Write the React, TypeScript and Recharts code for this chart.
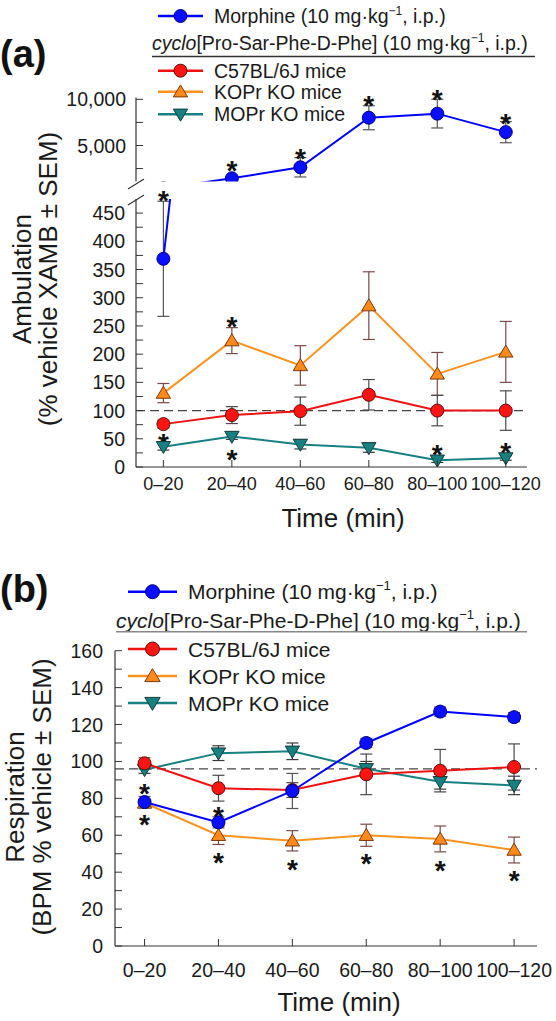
import React from 'react';
import {
  ComposedChart,
  Line,
  XAxis,
  YAxis,
  ErrorBar,
  ReferenceLine,
  ReferenceDot,
} from 'recharts';

const FONT = "'Liberation Sans', Arial, Helvetica, sans-serif";

const timeBins = ['0–20', '20–40', '40–60', '60–80', '80–100', '100–120'];

// (a) Ambulation (% vehicle XAMB ± SEM)
const ambMorphine = [369, 1450, 2640, 8010, 8450, 6450];
const ambMorphineSem = [102, 200, 1050, 1300, 1550, 1150];
const ambC57 = [76, 92, 99, 128, 100, 100];
const ambC57Sem = [7, 15, 25, 27, 27, 35];
const ambKop = [131, 224, 180, 286, 165, 204];
const ambKopSem = [17, 23, 35, 60, 38, 54];
const ambMop = [36, 54, 40, 34, 12, 16];
const ambMopSem = [6, 5, 8, 8, 4, 4];
// significance marks: [time bin, y value]
const ambStarsHigh = [[2, 3000], [3, 4300], [4, 10000], [5, 10700], [6, 8100]];
const ambStarsLow = [[1, 483], [2, 261], [1, 53], [2, 24.5], [5, 33], [6, 38]];

// (b) Respiration (BPM % vehicle ± SEM)
const respMorphine = [78, 67, 84, 110, 127, 124];
const respMorphineSem = [3, 3, 9.5, 2.5, 2.5, 2.5];
const respC57 = [99, 85.5, 84.5, 93, 95, 97];
const respC57Sem = [3, 7, 4, 11, 11.5, 12.5];
const respKop = [77.5, 60, 57, 60, 58, 52];
const respKopSem = [2, 5, 5.5, 6, 7, 7];
const respMop = [95.5, 104.5, 105.5, 96, 89, 87];
const respMopSem = [2, 4, 4.5, 4, 4, 5];
const respStars = [[1, 86], [1, 69.5], [2, 73.5], [2, 49], [3, 45], [4, 48], [5, 44.5], [6, 39]];

const ambRows = timeBins.map((_, i) => ({
  x: i + 1,
  mor: ambMorphine[i], morE: ambMorphineSem[i],
  c57: ambC57[i], c57E: ambC57Sem[i],
  kop: ambKop[i], kopE: ambKopSem[i],
  mop: ambMop[i], mopE: ambMopSem[i],
}));

const respRows = timeBins.map((_, i) => ({
  x: i + 1,
  mor: respMorphine[i], morE: respMorphineSem[i],
  c57: respC57[i], c57E: respC57Sem[i],
  kop: respKop[i], kopE: respKopSem[i],
  mop: respMop[i], mopE: respMopSem[i],
}));

type Shape = 'circle' | 'up' | 'down';
const STYLE: Record<string, { line: string; fill: string; edge: string; shape: Shape; err: string }> = {
  mor: { line: '#0000ff', fill: '#0a10ff', edge: '#00007a', shape: 'circle', err: '#555' },
  c57: { line: '#ee1111', fill: '#ff1414', edge: '#5a1010', shape: 'circle', err: '#4a4a4a' },
  kop: { line: '#f7931e', fill: '#ff8a1a', edge: '#7a3a10', shape: 'up', err: '#7a4a4a' },
  mop: { line: '#178080', fill: '#178080', edge: '#163a3a', shape: 'down', err: '#3a3a3a' },
};

const Marker = ({ cx, cy, k, size = 6.5 }: any) => {
  const s = STYLE[k];
  if (cx == null || cy == null) return null;
  if (s.shape === 'circle') {
    return <circle cx={cx} cy={cy} r={size} fill={s.fill} stroke={s.edge} strokeWidth={1} />;
  }
  const w = size * 1.1;
  const pts =
    s.shape === 'up'
      ? `${cx},${cy - size * 1.05} ${cx - w},${cy + size * 0.8} ${cx + w},${cy + size * 0.8}`
      : `${cx},${cy + size * 1.05} ${cx - w},${cy - size * 0.8} ${cx + w},${cy - size * 0.8}`;
  return <polygon points={pts} fill={s.fill} stroke={s.edge} strokeWidth={1} />;
};

const dotFor = (k: string) => (p: any) => <Marker key={`${k}-${p.index}`} cx={p.cx} cy={p.cy} k={k} />;

const Star = ({ cx, cy }: any) => (
  <text x={cx} y={cy + 16} textAnchor="middle" fontSize={28} fontWeight="bold" fontFamily={FONT} fill="#111">*</text>
);

const XTick = ({ x, y, payload, labelDy, fs }: any) => (
  <g>
    <line x1={x} x2={x} y1={y} y2={y - 7} stroke="#333" strokeWidth={1} />
    <text x={x} y={y + labelDy} textAnchor="middle" fontSize={fs} fontFamily={FONT} fill="#1a1a1a">
      {timeBins[payload.value - 1]}
    </text>
  </g>
);

const YTick = ({ x, y, payload, gap, show, fmt }: any) => (
  <g>
    <line x1={x + gap} x2={x + gap + 7} y1={y} y2={y} stroke="#333" strokeWidth={1} />
    {show.includes(payload.value) && (
      <text x={x} y={y} dy="0.36em" textAnchor="end" fontSize={19.5} fontFamily={FONT} fill="#1a1a1a">
        {fmt ? fmt(payload.value) : payload.value}
      </text>
    )}
  </g>
);

const seriesLines = (order: string[]) =>
  order.map((k) => (
    <Line
      key={k}
      type="linear"
      dataKey={k}
      stroke={STYLE[k].line}
      strokeWidth={2}
      dot={dotFor(k)}
      activeDot={false}
      isAnimationActive={false}
    >
      <ErrorBar dataKey={`${k}E`} width={6} stroke={STYLE[k].err} strokeWidth={1.2} direction="y" />
    </Line>
  ));

const starDots = (stars: number[][]) =>
  stars.map(([x, y], i) => (
    <ReferenceDot key={i} x={x} y={y} r={0} ifOverflow="visible" shape={(p: any) => <Star cx={p.cx} cy={p.cy} />} />
  ));

const xAxisProps = {
  type: 'number' as const,
  dataKey: 'x',
  domain: [0.6, 6.31],
  ticks: [1, 2, 3, 4, 5, 6],
  interval: 0 as const,
  tickSize: 0,
  tickMargin: 0,
  axisLine: { stroke: '#333', strokeWidth: 1.2 },
};

const LegendRow = ({ y, k, x0, x1, textX, fontSize, r, children }: any) => (
  <g>
    <line x1={x0} x2={x1} y1={y} y2={y} stroke={STYLE[k].line} strokeWidth={2.4} />
    <Marker cx={(x0 + x1) / 2} cy={y} k={k} size={r} />
    <text x={textX} y={y} dy="0.36em" fontSize={fontSize} fontFamily={FONT} fill="#1a1a1a">{children}</text>
  </g>
);

const Dose = ({ fs }: any) => (
  <>
    {' (10 mg·kg'}
    <tspan dy={-fs * 0.42} fontSize={fs * 0.62}>−1</tspan>
    <tspan dy={fs * 0.42}>, i.p.)</tspan>
  </>
);

const Legend = ({ rows, fs, r, x0, x1, textX, cycloX, ruleEnd, ruleColor, cycloY, ruleY }: any) => (
  <g>
    <LegendRow y={rows[0]} k="mor" x0={x0} x1={x1} textX={textX} fontSize={fs} r={r}>
      Morphine<Dose fs={fs} />
    </LegendRow>
    <text x={cycloX} y={cycloY} dy="0.36em" fontSize={fs} fontFamily={FONT} fill="#1a1a1a">
      <tspan fontStyle="italic">cyclo</tspan>[Pro-Sar-Phe-D-Phe]<Dose fs={fs} />
    </text>
    <line x1={cycloX} x2={ruleEnd} y1={ruleY} y2={ruleY} stroke={ruleColor} strokeWidth={1.4} />
    <LegendRow y={rows[1]} k="c57" x0={x0} x1={x1} textX={textX} fontSize={fs} r={r}>C57BL/6J mice</LegendRow>
    <LegendRow y={rows[2]} k="kop" x0={x0} x1={x1} textX={textX} fontSize={fs} r={r}>KOPr KO mice</LegendRow>
    <LegendRow y={rows[3]} k="mop" x0={x0} x1={x1} textX={textX} fontSize={fs} r={r}>MOPr KO mice</LegendRow>
  </g>
);

const range = (a: number, b: number, s: number) => {
  const out: number[] = [];
  for (let v = a; v <= b; v += s) out.push(v);
  return out;
};

const UPPER_DOMAIN = [1100, 10200];
const UPPER_MARGIN = { top: 97.5, right: 29, bottom: 8.5, left: 76 };

export default function App() {
  const order = ['kop', 'mop', 'c57', 'mor'];
  return (
    <div style={{ position: 'absolute', left: 0, top: 0, width: 556, height: 1021, background: '#fff', fontFamily: FONT }}>
      {/* (a) upper segment of the broken axis */}
      <div style={{ position: 'absolute', left: 0, top: 0, width: 556, height: 182, overflow: 'hidden' }}>
        <ComposedChart width={556} height={190} data={ambRows} margin={UPPER_MARGIN}>
          <XAxis {...xAxisProps} hide />
          <YAxis
            type="number"
            domain={UPPER_DOMAIN}
            allowDataOverflow
            ticks={[2500, 5000, 7500, 10000]}
            interval={0}
            width={60}
            tickSize={0}
            tickMargin={10}
            tickLine={false}
            axisLine={{ stroke: '#333', strokeWidth: 1.2 }}
            tick={(p: any) => <YTick {...p} gap={10} show={[5000, 10000]} fmt={(v: number) => v.toLocaleString('en-US')} />}
          />
          {seriesLines(['mor'])}
        </ComposedChart>
      </div>
      {/* significance marks of the upper segment, same scales, not clipped */}
      <div style={{ position: 'absolute', left: 0, top: 0, width: 556, height: 190 }}>
        <ComposedChart width={556} height={190} data={ambRows} margin={UPPER_MARGIN}>
          <XAxis {...xAxisProps} hide />
          <YAxis
            type="number"
            domain={UPPER_DOMAIN}
            allowDataOverflow
            width={60}
            tick={false}
            tickLine={false}
            axisLine={false}
          />
          {starDots(ambStarsHigh)}
        </ComposedChart>
      </div>

      {/* (a) lower segment */}
      <div style={{ position: 'absolute', left: 0, top: 183, width: 556, height: 357 }}>
        <ComposedChart width={556} height={357} data={ambRows} margin={{ top: 16, right: 29, bottom: 33, left: 76 }}>
          <XAxis {...xAxisProps} height={40} tick={(p: any) => <XTick {...p} labelDy={23} fs={18} />} />
          <YAxis
            type="number"
            domain={[0, 475]}
            allowDataOverflow
            ticks={range(0, 450, 25)}
            interval={0}
            width={60}
            tickSize={0}
            tickMargin={11}
            tickLine={false}
            axisLine={{ stroke: '#333', strokeWidth: 1.2 }}
            tick={(p: any) => <YTick {...p} gap={11} show={range(0, 450, 50)} />}
          />
          <ReferenceLine y={100} stroke="#444" strokeDasharray="9 5" strokeWidth={1.2} />
          {seriesLines(order)}
          {starDots(ambStarsLow)}
        </ComposedChart>
      </div>

      {/* (b) */}
      <div style={{ position: 'absolute', left: 0, top: 560, width: 556, height: 440 }}>
        <ComposedChart width={556} height={440} data={respRows} margin={{ top: 90.7, right: 19, bottom: 14, left: 55 }}>
          <XAxis {...xAxisProps} height={40} tick={(p: any) => <XTick {...p} labelDy={30.5} fs={19.5} />} />
          <YAxis
            type="number"
            domain={[0, 160]}
            ticks={range(0, 160, 10)}
            interval={0}
            width={60}
            tickSize={0}
            tickMargin={12}
            tickLine={false}
            axisLine={{ stroke: '#333', strokeWidth: 1.2 }}
            tick={(p: any) => <YTick {...p} gap={12} show={range(0, 160, 20)} />}
          />
          <ReferenceLine y={96} stroke="#444" strokeDasharray="9 5" strokeWidth={1.2} />
          {seriesLines(order)}
          {starDots(respStars)}
        </ComposedChart>
      </div>

      {/* titles, legends, axis break */}
      <svg width={556} height={1021} style={{ position: 'absolute', left: 0, top: 0, pointerEvents: 'none' }}>
        <text x={0} y={67} fontSize={38} fontWeight="bold" fontFamily={FONT} fill="#111">(a)</text>
        <text x={0} y={602} fontSize={38} fontWeight="bold" fontFamily={FONT} fill="#111">(b)</text>

        <g fontSize={26} fontFamily={FONT} fill="#1a1a1a" textAnchor="middle">
          <text transform="translate(31,279) rotate(-90)">Ambulation</text>
          <text transform="translate(57,279) rotate(-90)">(% vehicle XAMB ± SEM)</text>
          <text x={343} y={527}>Time (min)</text>

          <text transform="translate(24,797) rotate(-90)">Respiration</text>
          <text transform="translate(51,797) rotate(-90)">(BPM % vehicle ± SEM)</text>
          <text x={339} y={1011}>Time (min)</text>
        </g>

        <line x1={128} y1={189} x2={144} y2={179} stroke="#333" strokeWidth={1.2} />
        <line x1={128} y1={205} x2={144} y2={195} stroke="#333" strokeWidth={1.2} />

        <Legend
          rows={[16, 70.7, 91.7, 114.3]}
          fs={19.5}
          r={6.5}
          x0={158}
          x1={203}
          textX={214}
          cycloX={152}
          cycloY={43}
          ruleY={56.5}
          ruleEnd={535}
          ruleColor="#333"
        />
        <Legend
          rows={[591.7, 649, 676, 703]}
          fs={21}
          r={7}
          x0={128}
          x1={177}
          textX={188}
          cycloX={116}
          cycloY={620}
          ruleY={631.7}
          ruleEnd={527}
          ruleColor="#888"
        />
      </svg>
    </div>
  );
}
